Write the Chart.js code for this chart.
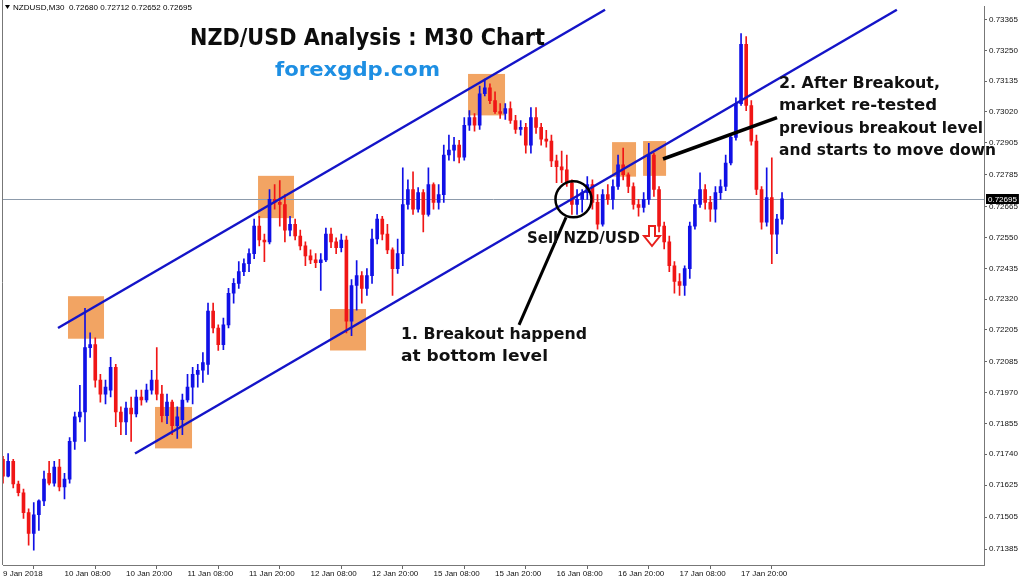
<!DOCTYPE html>
<html>
<head>
<meta charset="utf-8">
<script src="https://cdn.jsdelivr.net/npm/chart.js@4"></script>
<style>
  html, body { margin: 0; padding: 0; background: #fff; }
  #wrap { width: 1024px; height: 578px; }
</style>
</head>
<body>
<div id="wrap"><canvas id="chart" width="1024" height="578"></canvas></div>
<script>
// NZDUSD, prices in points (1 point = 0.00001), one candle per hour
const openPts = [71721,71658,71714,71629,71596,71522,71444,71514,71566,71669,
  71632,71692,71618,71647,71788,71880,71898,72139,72150,72017,
  71965,71980,72065,71898,71861,71913,71891,71954,71943,71980,
  72017,71965,71884,71935,71847,71869,71943,71991,72039,72054,
  72076,72275,72212,72150,72224,72342,72379,72423,72453,72490,
  72593,72541,72534,72693,72682,72674,72578,72600,72556,72519,
  72482,72467,72456,72467,72563,72534,72512,72541,72238,72371,
  72408,72360,72408,72545,72619,72563,72504,72434,72490,72674,
  72730,72656,72718,72637,72748,72682,72711,72859,72877,72896,
  72851,72970,72999,72970,73088,73110,73062,73021,73014,73032,
  72988,72955,72962,72896,72999,72962,72918,72911,72837,72815,
  72803,72755,72674,72693,72718,72748,72682,72600,72711,72693,
  72741,72822,72785,72741,72674,72663,72693,72859,72730,72593,
  72534,72445,72386,72371,72434,72593,72674,72730,72682,72656,
  72718,72741,72829,72925,73051,73273,73044,72911,72730,72608,
  72700,72563,72619];
const highPts = [71732,71743,71721,71640,71610,71536,71559,71570,71677,71714,
  71714,71721,71669,71802,71898,71998,72286,72194,72175,72039,
  72017,72102,72076,71917,71935,71954,71980,71980,72002,72054,
  72139,71998,71965,71943,71917,71965,72039,72065,72076,72120,
  72305,72305,72224,72249,72360,72397,72460,72471,72508,72619,
  72630,72563,72730,72748,72763,72711,72630,72619,72578,72534,
  72504,72490,72490,72586,72586,72549,72563,72556,72393,72464,
  72423,72434,72582,72637,72630,72600,72512,72545,72811,72766,
  72796,72737,72730,72811,72755,72748,72896,72933,72925,72914,
  72999,73025,73014,73117,73143,73125,73095,73051,73051,73058,
  73007,72988,72977,73036,73036,72977,72951,72933,72859,72874,
  72859,72766,72730,72730,72778,72766,72711,72730,72748,72766,
  72859,72885,72792,72755,72693,72718,72903,72866,72741,72608,
  72556,72460,72416,72445,72608,72693,72792,72748,72704,72741,
  72766,72859,72940,73073,73313,73302,73062,72933,72741,72811,
  72848,72637,72718];
const lowPts = [71632,71655,71614,71584,71500,71400,71381,71455,71548,71625,
  71621,71603,71573,71632,71758,71861,71788,72102,71991,71935,
  71928,71954,71843,71813,71813,71788,71880,71924,71935,71965,
  71943,71861,71854,71813,71799,71813,71935,71928,71991,72009,
  72039,72194,72128,72131,72212,72305,72360,72408,72423,72471,
  72519,72460,72526,72656,72593,72534,72556,72541,72504,72445,
  72453,72438,72353,72460,72512,72490,72497,72194,72183,72279,
  72305,72334,72379,72526,72541,72490,72334,72416,72445,72656,
  72637,72645,72571,72630,72656,72656,72682,72840,72837,72829,
  72840,72951,72948,72955,73080,73051,73014,72996,72992,72977,
  72940,72933,72866,72866,72940,72896,72888,72815,72755,72755,
  72741,72637,72637,72645,72693,72656,72582,72593,72674,72656,
  72730,72766,72718,72656,72630,72645,72674,72704,72571,72508,
  72423,72342,72334,72334,72397,72582,72663,72656,72611,72608,
  72693,72726,72822,72914,73044,73025,72896,72711,72582,72593,
  72453,72490,72600];
const closePts = [71658,71714,71629,71596,71522,71444,71514,71566,71647,71632,
  71692,71618,71647,71788,71880,71898,72139,72150,72017,71965,
  71991,72065,71898,71861,71913,71891,71954,71943,71980,72017,
  71965,71884,71935,71847,71880,71943,71991,72039,72054,72083,
  72275,72212,72150,72224,72342,72379,72423,72453,72490,72593,
  72541,72534,72693,72682,72674,72578,72600,72556,72519,72482,
  72467,72456,72467,72563,72534,72512,72541,72238,72371,72408,
  72360,72408,72545,72619,72563,72504,72434,72490,72674,72730,
  72656,72718,72637,72748,72682,72711,72859,72877,72896,72851,
  72970,72999,72970,73088,73110,73062,73021,73014,73032,72988,
  72955,72962,72896,72999,72962,72918,72911,72837,72815,72803,
  72755,72674,72693,72718,72748,72682,72600,72711,72693,72741,
  72822,72785,72741,72674,72663,72693,72859,72730,72593,72534,
  72445,72386,72371,72434,72593,72674,72730,72682,72656,72718,
  72741,72829,72925,73051,73273,73044,72911,72730,72608,72700,
  72563,72619,72695];

// time axis: candle index of each label
const timeTicks = [0, 12, 24, 36, 48, 60, 72, 84, 96, 108, 120, 132, 144];
const timeLabels = ['9 Jan 2018', '10 Jan 08:00', '10 Jan 20:00', '11 Jan 08:00', '11 Jan 20:00',
  '12 Jan 08:00', '12 Jan 20:00', '15 Jan 08:00', '15 Jan 20:00', '16 Jan 08:00',
  '16 Jan 20:00', '17 Jan 08:00', '17 Jan 20:00'];
const priceTicks = [71385, 71505, 71625, 71740, 71855, 71970, 72085, 72205, 72320,
  72435, 72550, 72665, 72785, 72905, 73020, 73135, 73250, 73365];
const lastPrice = 72695;

// drawn analysis: channel lines, pointer lines, highlighted zones
const channelTop = [{x: 10.73, y: 72212}, {x: 117.46, y: 73402}];
const channelBottom = [{x: 25.76, y: 71743}, {x: 174.4, y: 73402}];
const pointer1 = [{x: 100.68, y: 72224}, {x: 109.85, y: 72626}];
const pointer2 = [{x: 128.78, y: 72844}, {x: 151.02, y: 72999}];
const breakoutSpot = {x: 111.3, y: 72693};
const zones = [
  {from: 12.68, to: 19.71, lo: 72172, hi: 72331},
  {from: 29.66, to: 36.88, lo: 71762, hi: 71917},
  {from: 49.76, to: 56.78, lo: 72623, hi: 72781},
  {from: 63.80, to: 70.83, lo: 72128, hi: 72283},
  {from: 90.73, to: 97.95, lo: 73007, hi: 73162},
  {from: 118.83, to: 123.51, lo: 72778, hi: 72907},
  {from: 124.88, to: 129.37, lo: 72781, hi: 72911}
];

const BULL = '#1010e6';
const BEAR = '#f01616';
const candleColors = closePts.map((c, i) => c >= openPts[i] ? BULL : BEAR);
const TXT = '"DejaVu Sans", "Liberation Sans", sans-serif';
const AXIS_FONT = '"Liberation Sans", Arial, sans-serif';

function fitText(ctx, str, x, base, width, size, color) {
  ctx.font = 'bold ' + size + 'px ' + TXT;
  const w = ctx.measureText(str).width;
  ctx.save();
  ctx.translate(x, base);
  ctx.scale(width / w, 1);
  ctx.fillStyle = color;
  ctx.textBaseline = 'alphabetic';
  ctx.textAlign = 'left';
  ctx.fillText(str, 0, 0);
  ctx.restore();
}

const overlay = {
  id: 'overlay',
  beforeDatasetsDraw(chart) {
    const {ctx, chartArea: a, scales: {x, y}} = chart;
    ctx.save();
    ctx.beginPath();
    ctx.rect(a.left, a.top, a.width, a.height);
    ctx.clip();
    ctx.fillStyle = '#f2a463';
    zones.forEach(z => {
      const x0 = x.getPixelForValue(z.from), x1 = x.getPixelForValue(z.to);
      const y0 = y.getPixelForValue(z.hi), y1 = y.getPixelForValue(z.lo);
      ctx.fillRect(x0, y0, x1 - x0, y1 - y0);
    });
    const py = Math.round(y.getPixelForValue(lastPrice)) + 0.5;
    ctx.strokeStyle = '#8d9bab';
    ctx.lineWidth = 1;
    ctx.beginPath();
    ctx.moveTo(a.left, py);
    ctx.lineTo(a.right, py);
    ctx.stroke();
    ctx.restore();
  },
  afterDatasetsDraw(chart) {
    const {ctx, scales: {x, y}} = chart;
    ctx.save();
    ctx.strokeStyle = '#000';
    ctx.lineWidth = 2.5;
    ctx.beginPath();
    ctx.arc(x.getPixelForValue(breakoutSpot.x), y.getPixelForValue(breakoutSpot.y), 18, 0, Math.PI * 2);
    ctx.stroke();
    ctx.restore();
  },
  afterDraw(chart) {
    const {ctx, chartArea: a, scales: {y}} = chart;
    ctx.save();
    // left frame
    ctx.strokeStyle = '#777';
    ctx.lineWidth = 1;
    ctx.beginPath();
    ctx.moveTo(2.5, 0);
    ctx.lineTo(2.5, a.bottom);
    ctx.stroke();

    // header line
    ctx.fillStyle = '#000';
    ctx.beginPath();
    ctx.moveTo(5, 5); ctx.lineTo(10, 5); ctx.lineTo(7.5, 9); ctx.closePath();
    ctx.fill();
    ctx.font = '8px ' + AXIS_FONT;
    ctx.textBaseline = 'alphabetic';
    const head = 'NZDUSD,M30  0.72680 0.72712 0.72652 0.72695';
    const hw = ctx.measureText(head).width;
    ctx.save();
    ctx.translate(13, 10);
    ctx.scale(179 / hw, 1);
    ctx.fillText(head, 0, 0);
    ctx.restore();

    // bid price label on the axis
    const py = Math.round(y.getPixelForValue(lastPrice));
    const lbl = (lastPrice / 1e5).toFixed(5);
    ctx.font = '8px ' + AXIS_FONT;
    const lw = ctx.measureText(lbl).width;
    ctx.fillStyle = '#000';
    ctx.fillRect(a.right + 2, py - 5, lw + 4, 10);
    ctx.fillStyle = '#fff';
    ctx.textBaseline = 'middle';
    ctx.fillText(lbl, a.right + 4, py + 0.5);

    // sell arrow (outlined, pointing down)
    ctx.strokeStyle = '#e8201c';
    ctx.fillStyle = '#fff';
    ctx.lineWidth = 2;
    ctx.beginPath();
    ctx.moveTo(649, 226); ctx.lineTo(655, 226); ctx.lineTo(655, 236); ctx.lineTo(660, 236);
    ctx.lineTo(652, 246); ctx.lineTo(644, 236); ctx.lineTo(649, 236); ctx.closePath();
    ctx.fill();
    ctx.stroke();

    // texts
    fitText(ctx, 'NZD/USD Analysis : M30 Chart', 190, 45, 355, 23, '#0d0d0d');
    fitText(ctx, 'forexgdp.com', 275, 76, 165, 20, '#1e8fe3');
    fitText(ctx, 'Sell NZD/USD', 527, 243, 113, 15, '#111');
    fitText(ctx, '1. Breakout happend', 401, 339, 186, 16, '#111');
    fitText(ctx, 'at bottom level', 401, 361, 147, 16, '#111');
    const note = ['2. After Breakout,', 'market re-tested', 'previous breakout level', 'and starts to move down'];
    const noteBase = [88, 110, 133, 155];
    const noteW = [161, 158, 204, 217];
    note.forEach((t, i) => fitText(ctx, t, 779, noteBase[i], noteW[i], 16, '#111'));
    ctx.restore();
  }
};

new Chart(document.getElementById('chart'), {
  type: 'bar',
  data: {
    datasets: [
      {type: 'line', data: pointer1, borderColor: '#000', borderWidth: 3, pointRadius: 0, order: 0},
      {type: 'line', data: pointer2, borderColor: '#000', borderWidth: 3.5, pointRadius: 0, order: 0},
      {type: 'line', data: channelTop, borderColor: '#1414c8', borderWidth: 2.5, pointRadius: 0, order: 1},
      {type: 'line', data: channelBottom, borderColor: '#1414c8', borderWidth: 2.5, pointRadius: 0, order: 1},
      {
        label: 'body',
        data: openPts.map((o, i) => ({x: i, y: [o, closePts[i]]})),
        backgroundColor: candleColors,
        barThickness: 3,
        minBarLength: 1,
        grouped: false,
        order: 2
      },
      {
        label: 'wick',
        data: highPts.map((h, i) => ({x: i, y: [lowPts[i], h]})),
        backgroundColor: candleColors,
        barThickness: 1,
        grouped: false,
        order: 3
      }
    ]
  },
  options: {
    responsive: false,
    animation: false,
    events: [],
    layout: {padding: {left: 3, top: 0, right: 0, bottom: 0}},
    plugins: {legend: {display: false}, tooltip: {enabled: false}},
    scales: {
      x: {
        type: 'linear',
        min: 0,
        max: 191.4,
        offset: false,
        afterBuildTicks: s => { s.ticks = timeTicks.map(v => ({value: v})); },
        afterFit: s => { s.height = 13; },
        ticks: {
          autoSkip: false,
          maxRotation: 0,
          align: 'start',
          padding: 0,
          color: '#111',
          font: {family: AXIS_FONT, size: 8},
          callback: v => timeLabels[timeTicks.indexOf(v)]
        },
        grid: {display: true, drawOnChartArea: false, drawTicks: true, tickLength: 4, color: '#666'},
        border: {display: true, color: '#777'}
      },
      y: {
        position: 'right',
        min: 71326,
        max: 73413,
        afterBuildTicks: s => { s.ticks = priceTicks.map(v => ({value: v})); },
        afterFit: s => { s.width = 40; },
        ticks: {
          padding: 2,
          color: '#111',
          font: {family: AXIS_FONT, size: 8},
          callback: v => (v / 1e5).toFixed(5)
        },
        grid: {display: true, drawOnChartArea: false, drawTicks: true, tickLength: 3, color: '#666'},
        border: {display: true, color: '#777'}
      }
    }
  },
  plugins: [overlay]
});
</script>
</body>
</html>
